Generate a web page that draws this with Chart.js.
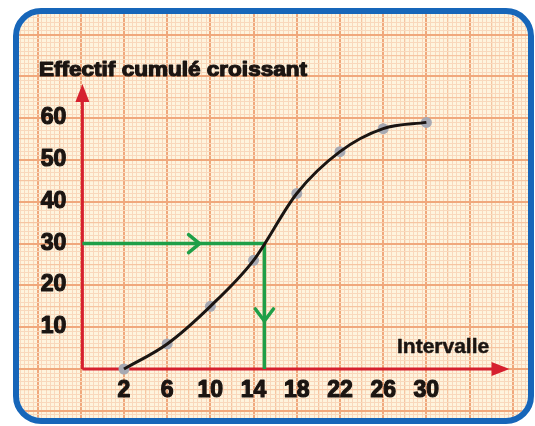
<!DOCTYPE html>
<html lang="fr">
<head>
<meta charset="utf-8">
<title>Effectif cumulé croissant</title>
<script src="https://cdn.jsdelivr.net/npm/chart.js@4.4.1/dist/chart.umd.min.js"></script>
<style>
  html, body { margin: 0; padding: 0; background: #fff; }
  #chart { display: block; }
</style>
</head>
<body>
<canvas id="chart" width="535" height="426"></canvas>
<script>
// Bornes des intervalles et effectifs cumulés croissants
const bornes = [2, 6, 10, 14, 18, 22, 26, 30];
const effectifsCumules = [0, 6, 15, 26, 42, 52, 57.5, 59];

// Graduations écrites sur les axes
const xTickLabels = [2, 6, 10, 14, 18, 22, 26, 30];
const yTickLabels = [10, 20, 30, 40, 50, 60];

// Lecture graphique : effectif 30 -> intervalle 15
const lectureEffectif = 30;
const lectureIntervalle = 15;

// Repère : position de l'axe vertical, bouts des flèches, pointes vertes
const origineX = -1.85;
const flecheX = 37.7;
const flecheY = 68.2;
const chevronH = 9;
const chevronV = 11.5;

const COLORS = {
  paper: '#fef4de',
  minor: '#f9d8bc',
  medium: '#f6c5a2',
  major: '#f0a87c',
  axis: '#d6202e',
  curve: '#1b1512',
  point: '#a7a9b2',
  guide: '#1f9f48',
  frame: '#1766b9',
  text: '#1b1512',
};

const FONT = '"Liberation Sans", Arial, sans-serif';

const near = (v, step) => Math.abs(v / step - Math.round(v / step)) < 1e-6;

// --- Papier millimétré : 10 petits carreaux par grand carreau ---
function gridStyle(kind) {
  const level = (c) => {
    const v = kind === 'x' ? c.tick.value - 2 : c.tick.value;
    const big = kind === 'x' ? 4 : 10;
    if (near(v, big)) return 2;
    if (near(v, big / 2)) return 1;
    return 0;
  };
  return {
    color: (c) => [COLORS.minor, COLORS.medium, COLORS.major][level(c)],
    lineWidth: (c) => [1, 1.3, 2][level(c)],
    drawTicks: false,
  };
}

function innerPath(ctx, a, r) {
  ctx.beginPath();
  ctx.roundRect(a.left, a.top, a.right - a.left, a.bottom - a.top, r);
}

function heavyText(ctx, text, x, y) {
  ctx.fillText(text, x, y);
  ctx.strokeText(text, x, y);
}

function arrowHead(ctx, tipX, tipY, dx, dy, len, half) {
  // dx, dy : direction unitaire de la flèche
  const bx = tipX - dx * len, by = tipY - dy * len;
  ctx.beginPath();
  ctx.moveTo(tipX, tipY);
  ctx.lineTo(bx - dy * half, by + dx * half);
  ctx.lineTo(bx + dy * half, by - dx * half);
  ctx.closePath();
  ctx.fill();
}

const paperPlugin = {
  id: 'paper',
  beforeDraw(chart) {
    const { ctx, chartArea: a } = chart;
    ctx.save();
    innerPath(ctx, a, 22);
    ctx.clip();
    ctx.fillStyle = COLORS.paper;
    ctx.fillRect(a.left, a.top, a.right - a.left, a.bottom - a.top);
  },

  // axes rouges fléchés, sous la courbe
  beforeDatasetsDraw(chart) {
    const { ctx, scales: { x, y } } = chart;
    const x0 = x.getPixelForValue(origineX);
    const y0 = y.getPixelForValue(0);
    const xEnd = x.getPixelForValue(flecheX);
    const yEnd = y.getPixelForValue(flecheY);
    ctx.save();
    ctx.strokeStyle = COLORS.axis;
    ctx.fillStyle = COLORS.axis;
    ctx.lineWidth = 3;
    ctx.beginPath();
    ctx.moveTo(x0, y0);
    ctx.lineTo(xEnd - 10, y0);
    ctx.moveTo(x0, y0);
    ctx.lineTo(x0, yEnd + 10);
    ctx.stroke();
    arrowHead(ctx, xEnd, y0, 1, 0, 18, 7);
    arrowHead(ctx, x0, yEnd, 0, -1, 18, 7);
    ctx.restore();
  },

  // pointes ouvertes sur le tracé de lecture
  afterDatasetsDraw(chart) {
    const { ctx, scales: { x, y } } = chart;
    ctx.save();
    ctx.strokeStyle = COLORS.guide;
    ctx.lineWidth = 3.5;
    ctx.lineCap = 'round';
    ctx.lineJoin = 'round';
    const hx = x.getPixelForValue(chevronH);
    const hy = y.getPixelForValue(lectureEffectif);
    ctx.beginPath();
    ctx.moveTo(hx - 11, hy - 9);
    ctx.lineTo(hx, hy);
    ctx.lineTo(hx - 11, hy + 9);
    ctx.stroke();
    const vx = x.getPixelForValue(lectureIntervalle);
    const vy = y.getPixelForValue(chevronV);
    ctx.beginPath();
    ctx.moveTo(vx - 9, vy - 12);
    ctx.lineTo(vx, vy);
    ctx.lineTo(vx + 9, vy - 12);
    ctx.stroke();
    ctx.restore();
    ctx.restore(); // fin du découpage arrondi
  },

  afterDraw(chart) {
    const { ctx, chartArea: a, scales: { x, y } } = chart;

    // cadre bleu arrondi
    ctx.save();
    ctx.strokeStyle = COLORS.frame;
    ctx.lineWidth = 6;
    ctx.beginPath();
    ctx.roundRect(a.left - 3, a.top - 3, a.right - a.left + 6, a.bottom - a.top + 6, 25);
    ctx.stroke();
    ctx.restore();

    ctx.save();
    ctx.fillStyle = COLORS.text;
    ctx.strokeStyle = COLORS.text;
    ctx.lineWidth = 1.2;
    ctx.lineJoin = 'round';

    // graduations
    ctx.font = `bold 23px ${FONT}`;
    ctx.textAlign = 'center';
    ctx.textBaseline = 'alphabetic';
    xTickLabels.forEach(v => heavyText(ctx, String(v), x.getPixelForValue(v), y.getPixelForValue(0) + 28));
    ctx.textAlign = 'right';
    yTickLabels.forEach(v => heavyText(ctx, String(v), x.getPixelForValue(origineX) - 16, y.getPixelForValue(v) + 6));

    // titre de l'axe vertical, étiré comme sur le modèle imprimé
    ctx.font = `bold 20px ${FONT}`;
    ctx.textAlign = 'left';
    const titre = 'Effectif cumulé croissant';
    const w = ctx.measureText(titre).width;
    ctx.save();
    ctx.translate(39, 76);
    ctx.scale(268 / w, 1);
    heavyText(ctx, titre, 0, 0);
    ctx.restore();

    // titre de l'axe horizontal
    ctx.font = `bold 21px ${FONT}`;
    ctx.lineWidth = 0.5;
    ctx.fillText('Intervalle', 397, 353);
    ctx.strokeText('Intervalle', 397, 353);
    ctx.restore();
  },
};

const courbe = bornes.map((b, i) => ({ x: b, y: effectifsCumules[i] }));
const lecture = [
  { x: origineX, y: lectureEffectif },
  { x: lectureIntervalle, y: lectureEffectif },
  { x: lectureIntervalle, y: 0 },
];

new Chart(document.getElementById('chart'), {
  type: 'line',
  data: {
    datasets: [
      {
        data: courbe,
        borderColor: COLORS.curve,
        borderWidth: 3,
        cubicInterpolationMode: 'monotone',
        pointRadius: 0,
        order: 1,
      },
      {
        data: courbe,
        showLine: false,
        pointRadius: 5.5,
        pointBackgroundColor: COLORS.point,
        pointBorderWidth: 0,
        order: 2,
      },
      {
        data: lecture,
        borderColor: COLORS.guide,
        borderWidth: 3.5,
        pointRadius: 0,
        tension: 0,
        order: 3,
      },
    ],
  },
  options: {
    responsive: false,
    animation: false,
    layout: { padding: { left: 19, top: 14, right: 7, bottom: 8 } },
    plugins: { legend: { display: false }, tooltip: { enabled: false } },
    scales: {
      x: {
        type: 'linear',
        min: -7.72,
        max: 39.41,
        ticks: { display: false, stepSize: 0.4, includeBounds: false, autoSkip: false },
        grid: gridStyle('x'),
        border: { display: false },
      },
      y: {
        type: 'linear',
        min: -11.72,
        max: 84.93,
        ticks: { display: false, stepSize: 1, includeBounds: false, autoSkip: false },
        grid: gridStyle('y'),
        border: { display: false },
      },
    },
  },
  plugins: [paperPlugin],
});
</script>
</body>
</html>
